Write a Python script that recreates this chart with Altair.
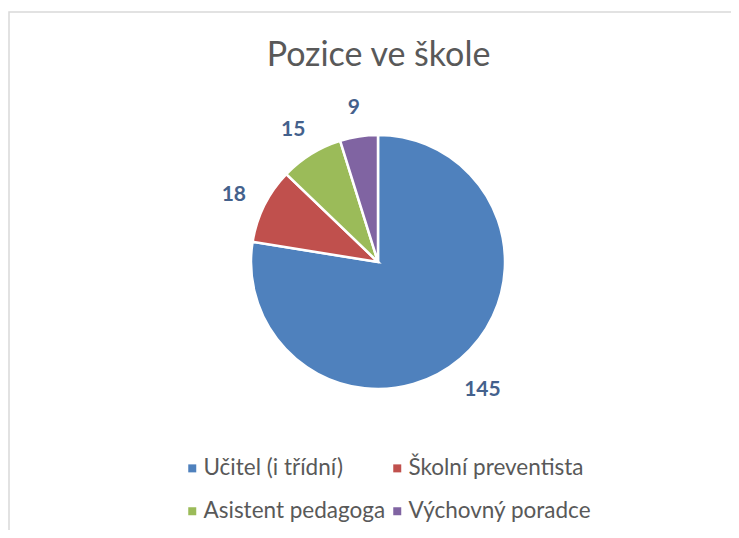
import altair as alt
import pandas as pd

categories = ["Učitel (i třídní)", "Školní preventista", "Asistent pedagoga", "Výchovný poradce"]
values = [145, 18, 15, 9]
colors = ["#4F81BD", "#C0504D", "#9BBB59", "#8064A2"]

df = pd.DataFrame({"pozice": categories, "pocet": values, "poradi": list(range(len(categories)))})

CX, CY = 370, 254

base = alt.Chart(df).encode(
    theta=alt.Theta("pocet:Q", stack=True),
    order=alt.Order("poradi:Q"),
)

pie = base.mark_arc(outerRadius=127, stroke="white", strokeWidth=2.5).encode(
    x=alt.value(CX),
    y=alt.value(CY),
    color=alt.Color(
        "pozice:N",
        sort=categories,
        scale=alt.Scale(domain=categories, range=colors),
        legend=alt.Legend(
            title=None,
            orient="none",
            legendX=173,
            legendY=449,
            columns=2,
            direction="horizontal",
            symbolType="square",
            symbolSize=64,
            symbolStrokeWidth=0,
            labelFont="Lato",
            labelFontSize=22.5,
            labelColor="#595959",
            labelOffset=0,
            rowPadding=20,
            columnPadding=0,
            padding=0,
            labelLimit=400,
        ),
    ),
)

labels = base.mark_text(
    radius=161, dy=5, font="Lato", fontSize=21, fontWeight="bold", color="#44618C"
).encode(
    x=alt.value(CX),
    y=alt.value(CY),
    text="pocet:Q",
)

frame = alt.Chart(alt.Data(values=[{"a": 1}])).mark_rect(
    filled=False, stroke="#D9D9D9", strokeWidth=1.5
).encode(x=alt.value(1), y=alt.value(4), x2=alt.value(1000), y2=alt.value(1000))

chart = alt.layer(frame, pie, labels).properties(
    width=723,
    height=522,
    autosize=alt.AutoSizeParams(type="none"),
    padding=0,
    title=alt.TitleParams(
        "Pozice ve škole",
        font="Lato",
        fontSize=34,
        fontWeight="normal",
        color="#595959",
        anchor="middle",
        frame="group",
        offset=0,
        baseline="alphabetic",
        dy=92,
        dx=9,
    ),
).configure_view(stroke=None)

chart.save("out.html", embed_options={"renderer": "svg", "actions": False})
